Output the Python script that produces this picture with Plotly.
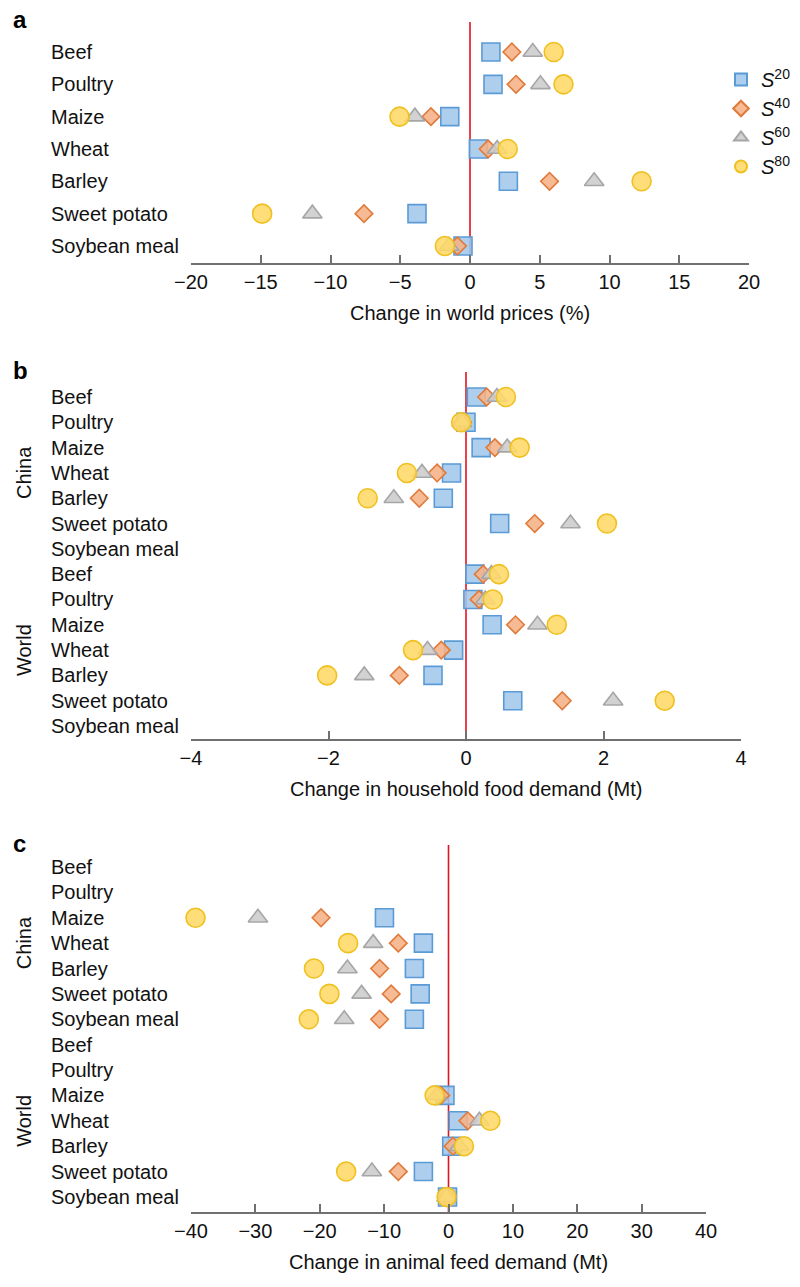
import plotly.graph_objects as go

W, H = 800, 1287

# ---------------- data ----------------
crops = ["Beef", "Poultry", "Maize", "Wheat", "Barley", "Sweet potato", "Soybean meal"]
regions = ["China", "World"]
scenarios = ["20", "40", "60", "80"]

# Panel a: change in world prices (%)
a_s20 = [1.5, 1.65, -1.45, 0.6, 2.75, -3.8, -0.5]
a_s40 = [3.0, 3.3, -2.8, 1.3, 5.7, -7.6, -0.9]
a_s60 = [4.5, 5.05, -3.95, 1.95, 8.9, -11.3, -1.5]
a_s80 = [6.0, 6.7, -5.05, 2.7, 12.3, -14.9, -1.8]

# Panel b: change in household food demand (Mt), China then World
b_china_s20 = [0.15, 0.0, 0.22, -0.21, -0.33, 0.49, None]
b_china_s40 = [0.3, -0.05, 0.42, -0.42, -0.68, 1.0, None]
b_china_s60 = [0.45, -0.06, 0.6, -0.64, -1.05, 1.52, None]
b_china_s80 = [0.58, -0.07, 0.78, -0.86, -1.43, 2.05, None]
b_world_s20 = [0.13, 0.1, 0.38, -0.18, -0.48, 0.68, None]
b_world_s40 = [0.25, 0.19, 0.72, -0.36, -0.97, 1.4, None]
b_world_s60 = [0.37, 0.28, 1.04, -0.56, -1.48, 2.14, None]
b_world_s80 = [0.48, 0.39, 1.32, -0.77, -2.02, 2.89, None]

# Panel c: change in animal feed demand (Mt), China then World
c_china_s20 = [None, None, -9.95, -3.9, -5.3, -4.4, -5.3]
c_china_s40 = [None, None, -19.8, -7.8, -10.7, -8.9, -10.7]
c_china_s60 = [None, None, -29.6, -11.7, -15.7, -13.5, -16.2]
c_china_s80 = [None, None, -39.3, -15.6, -20.9, -18.5, -21.7]
c_world_s20 = [None, None, -0.55, 1.5, 0.5, -3.9, -0.15]
c_world_s40 = [None, None, -1.2, 3.0, 0.7, -7.8, -0.2]
c_world_s60 = [None, None, -1.8, 4.8, 1.7, -11.9, -0.3]
c_world_s80 = [None, None, -2.15, 6.5, 2.4, -15.9, -0.3]

x_titles = ["Change in world prices (%)",
            "Change in household food demand (Mt)",
            "Change in animal feed demand (Mt)"]
panel_letters = ["a", "b", "c"]

# ---------------- styles ----------------
FONT = "Liberation Sans, Arial, Helvetica, sans-serif"
styles = {
    "20": dict(symbol="square", size=18, color="rgba(163,199,236,0.88)", line=dict(color="#5b9bd5", width=1.6)),
    "40": dict(symbol="diamond", size=13.5, color="rgba(245,178,134,0.88)", line=dict(color="#e07a3a", width=1.6)),
    "60": dict(symbol="triangle-up", size=17, color="rgba(204,204,204,0.88)", line=dict(color="#a6a6a6", width=1.6)),
    "80": dict(symbol="circle", size=19, color="rgba(255,218,104,0.88)", line=dict(color="#f0c020", width=1.6)),
}

def px_x(x):
    return x / W

def px_y(y):
    return 1 - y / H

# panel geometry in pixels
geo = {
    1: dict(xl=191, xr=749, yt=22, yb=263, r0=52, step=32.33, rng=[-20, 20], dtick=5),
    2: dict(xl=191, xr=741, yt=372, yb=739, r0=397, step=25.31, rng=[-4, 4], dtick=2),
    3: dict(xl=191, xr=706, yt=845, yb=1212, r0=867, step=25.38, rng=[-40, 40], dtick=10),
}

fig = go.Figure()

def add_series(panel, xs_by_s, rows, show_legend):
    xa = "x" if panel == 1 else f"x{panel}"
    ya = "y" if panel == 1 else f"y{panel}"
    for s, xs in zip(scenarios, xs_by_s):
        st = styles[s]
        fig.add_trace(go.Scatter(
            x=xs, y=rows, mode="markers", xaxis=xa, yaxis=ya,
            name=f"<i>S</i><sup>{s}</sup>", legendgroup=s, showlegend=show_legend,
            marker=dict(symbol=st["symbol"], size=st["size"], color=st["color"], line=st["line"]),
            cliponaxis=False, hoverinfo="x+y",
        ))

rows_a = list(range(len(crops)))
add_series(1, [a_s20, a_s40, a_s60, a_s80], rows_a, True)

rows_china = list(range(len(crops)))
rows_world = [len(crops) + i for i in range(len(crops))]
add_series(2, [b_china_s20, b_china_s40, b_china_s60, b_china_s80], rows_china, False)
add_series(2, [b_world_s20, b_world_s40, b_world_s60, b_world_s80], rows_world, False)
add_series(3, [c_china_s20, c_china_s40, c_china_s60, c_china_s80], rows_china, False)
add_series(3, [c_world_s20, c_world_s40, c_world_s60, c_world_s80], rows_world, False)

layout = {}
annotations = []
shapes = []
for p, g in geo.items():
    xk = "xaxis" if p == 1 else f"xaxis{p}"
    yk = "yaxis" if p == 1 else f"yaxis{p}"
    ya_ref = "y" if p == 1 else f"y{p}"
    xa_ref = "x" if p == 1 else f"x{p}"
    top_val = (g["yt"] - g["r0"]) / g["step"]
    bot_val = (g["yb"] - g["r0"]) / g["step"]
    layout[xk] = dict(
        domain=[px_x(g["xl"]), px_x(g["xr"])], anchor=ya_ref, range=g["rng"], dtick=g["dtick"],
        showline=True, linecolor="#707070", linewidth=1.5, ticks="inside", ticklen=8,
        tickwidth=1.5, tickcolor="#707070", showgrid=False, zeroline=False,
        tickfont=dict(size=20, color="#111", family=FONT), fixedrange=True, automargin=False,
    )
    layout[yk] = dict(
        domain=[px_y(g["yb"]), px_y(g["yt"])], anchor=xa_ref, range=[bot_val, top_val],
        showline=False, showgrid=False, zeroline=False, showticklabels=False, ticks="",
        fixedrange=True, automargin=False,
    )
    shapes.append(dict(type="line", xref=xa_ref, yref=f"{ya_ref} domain", x0=0, x1=0, y0=0, y1=1,
                       line=dict(color="#e0141e", width=1.6), layer="below"))
    annotations.append(dict(text=x_titles[p - 1], xref=f"{xa_ref} domain", x=0.5,
                            yref="paper", y=px_y(g["yb"] + 50), showarrow=False,
                            xanchor="center", yanchor="middle",
                            font=dict(size=20, color="#111", family=FONT)))
    annotations.append(dict(text=f"<b>{panel_letters[p - 1]}</b>", xref="paper", yref="paper",
                            x=px_x(11), y=px_y(g["yt"] - 2), showarrow=False,
                            xanchor="left", yanchor="middle",
                            font=dict(size=24, color="#000", family=FONT)))
    labels = crops if p == 1 else crops + crops
    for i, lab in enumerate(labels):
        annotations.append(dict(text=lab, xref="paper", yref=ya_ref, x=px_x(49), y=i,
                                showarrow=False, xanchor="left", yanchor="middle",
                                font=dict(size=20, color="#111", family=FONT)))
    if p > 1:
        for k, reg in enumerate(regions):
            centre = 3 + 7 * k
            annotations.append(dict(text=reg, xref="paper", yref=ya_ref, x=px_x(24), y=centre,
                                    showarrow=False, textangle=-90, xanchor="center", yanchor="middle",
                                    font=dict(size=20, color="#111", family=FONT)))

fig.update_layout(
    width=W, height=H,
    margin=dict(l=0, r=0, t=0, b=0, pad=0, autoexpand=False),
    paper_bgcolor="white", plot_bgcolor="white",
    annotations=annotations, shapes=shapes,
    showlegend=True,
    legend=dict(x=px_x(721), y=px_y(60), xanchor="left", yanchor="top",
                font=dict(size=20, color="#111", family=FONT),
                itemsizing="constant", bgcolor="rgba(0,0,0,0)", tracegroupgap=0),
    **layout,
)

fig.write_html("out.html", config={"displayModeBar": False},
               post_script="document.body.style.margin='0px';document.body.style.padding='0px';")
